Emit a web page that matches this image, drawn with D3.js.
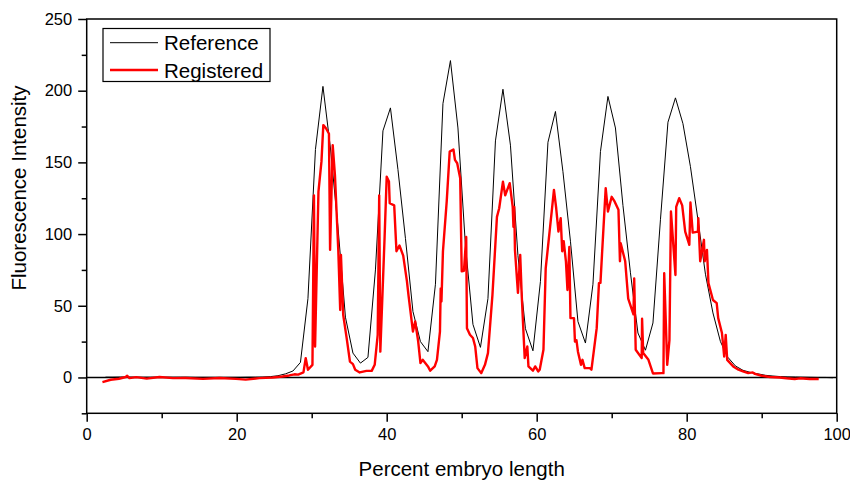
<!DOCTYPE html>
<html><head><meta charset="utf-8">
<script src="https://cdn.jsdelivr.net/npm/d3@7"></script>
<style>
body{margin:0;background:#fff}
svg{display:block}
text{font-family:Arial,"Liberation Sans",sans-serif;fill:#000}
</style></head>
<body><svg id="c" width="850" height="481"></svg>
<script>
// ---- data ----
const refX = [2.5,3.5,4.5,5.5,6.5,7.5,8.5,9.5,10.5,11.5,12.5,13.5,14.5,15.5,16.5,17.5,18.5,19.5,20.5,21.5,
  22.5,23.5,24.5,25.5,26.5,27.5,28.5,29.5,30.5,31.5,32.5,33.5,34.5,35.5,36.5,37.5,38.5,39.5,40.5,41.5,
  42.5,43.5,44.5,45.5,46.5,47.5,48.5,49.5,50.5,51.5,52.5,53.5,54.5,55.5,56.5,57.5,58.5,59.5,60.5,61.5,
  62.5,63.5,64.5,65.5,66.5,67.5,68.5,69.5,70.5,71.5,72.5,73.5,74.5,75.5,76.5,77.5,78.5,79.5,80.5,81.5,
  82.5,83.5,84.5,85.5,86.5,87.5,88.5,89.5,90.5,91.5,92.5,93.5,94.5,95.5,96.5,97.5,98.5,99.5];
const refY = [0.2,0.2,0.3,0.3,0.2,0.2,0.2,0.2,0.2,0.2,0.2,0.2,0.1,0.1,0.1,0.1,0.1,0.1,0.1,0.2,
  0.2,0.3,0.6,1.2,2.5,4.5,10.5,55,159,203,160,105,42,17,10,14,75,172,188,145,
  97,46,25,18,65,191,221,174,92,37,21,55,165,201,162,85,34,18.6,67,164,
  185.5,143.5,95,39,24,65,157.5,196,174,120,73,31,19,38,110,178,195,177,147,110,
  72,45,25,14,8,5,3.5,2.5,1.5,1,0.6,0.4,0.3,0.2,0.1,0,0,-0.2];

const regX = [2.1,3.2,4.3,5.2,5.4,5.7,6.6,8.0,9.7,11.5,13.2,15.5,17.7,19.9,21.2,23.0,24.8,26.1,27.0,27.7,
  28.2,28.9,29.2,29.5,30.1,30.3,30.45,30.9,31.3,31.55,31.9,32.3,32.45,32.8,33.1,33.55,33.8,33.9,34.2,34.7,
  35.1,35.5,35.8,36.4,37.3,38.0,38.4,38.8,39.0,39.15,39.7,40.0,40.3,40.4,41.0,41.3,41.7,42.2,42.7,42.9,
  43.5,43.8,44.2,44.5,44.8,45.5,45.8,46.4,46.7,47.1,47.2,47.3,47.5,48.0,48.4,48.9,49.1,49.4,49.8,50.0,
  50.3,50.6,50.7,51.1,51.5,51.8,52.1,52.6,53.1,53.5,54.1,54.7,55.0,55.5,55.8,56.4,56.8,56.9,57.0,57.1,
  57.5,57.8,58.0,58.4,58.75,58.9,59.5,59.8,60.2,60.4,60.9,61.2,62.0,62.3,62.6,62.9,63.2,63.4,63.6,63.9,
  64.1,64.35,64.5,64.97,65.1,65.3,65.5,65.9,66.1,66.4,67.1,67.3,68.0,68.3,68.5,68.9,69.2,69.5,70.0,70.4,
  70.9,71.1,71.2,71.8,72.2,72.9,73.0,73.2,74.0,74.05,74.2,74.9,75.5,76.7,76.9,77.0,77.4,77.7,77.9,78.5,
  78.6,79.0,79.4,79.8,80.35,80.5,80.8,81.5,81.55,81.8,82.3,82.4,82.7,82.9,83.5,84.0,84.2,84.7,85.0,85.2,
  85.4,85.8,86.2,86.9,87.5,88.2,88.8,89.1,90.0,91.1,92.4,93.3,94.4,95.1,96.4,97.6];
const regY = [-3.2,-1.6,-0.9,0.3,1.2,-0.5,0.2,-0.8,0.3,-0.5,-0.4,-1.0,-0.4,-1.0,-1.5,-0.5,0,0.7,1.4,2.2,
  2.0,3.5,13.5,5.4,8.8,127,21.6,129.6,150.5,176,173.8,170,89,162,141,88,47,85.5,43.7,26,
  11,9.3,5.4,3.5,4.6,4.6,8.8,29.7,127,18,95,140,136.6,121.5,120,88,92,85,67,57.6,
  32,39,25,10,12.3,7.7,4.7,7.7,12.3,32,62,53,88,122.6,157.5,159,151.7,149.4,139,74,
  74.4,98,34.4,29.8,27.5,21.6,6.5,3,8.8,17,57.6,112,118,136.6,127,135.5,119,105,119,89,
  59,85.5,57.6,13.5,21.6,7.7,4.7,7.7,4.2,5.4,19.3,76,115.7,130.8,118,101.7,111,88,95,80.8,
  61,91,41.4,41.4,25,26,18,8.8,12.3,6.5,6.5,5.4,34.4,65.8,66,104,132,115.7,126,122.6,
  117,81,93.6,81,55,44,69,19.3,13.5,41,17,12.3,2.8,3,3,72.7,8.8,26,115.7,71.5,
  119,125,120,101.7,92.5,122,101,101.7,111,81,96,81,89,65.8,54,51.8,41.4,31,14.6,29.7,
  12.3,10,7.7,5.4,4.2,3,3.5,2.5,1.2,0.3,0,-0.6,-1.1,-0.6,-1.1,-1.1];

const xMajor = [0,20,40,60,80,100];
const xMinor = [10,30,50,70,90];
const yMajor = [0,50,100,150,200,250];
const yMinor = [-25,25,75,125,175,225];
const seriesNames = ["Reference","Registered"];
const seriesColors = ["#000000","#ff0000"];

// ---- chart ----
const svg = d3.select("#c");
const L=86.7, R=836.7, T=19, B=413.3;
const x = d3.scaleLinear().domain([0,100]).range([L,R]);
const y = d3.scaleLinear().domain([-25,250]).range([B,T]);

function styleAxis(g){
  g.select(".domain").remove();
  g.selectAll(".tick line").attr("stroke","#000").attr("stroke-width",1.5);
}
svg.append("g").attr("transform",`translate(0,${B})`)
  .call(d3.axisBottom(x).tickValues(xMajor).tickSize(8.5).tickPadding(6).tickFormat(d3.format("d")))
  .call(styleAxis)
  .selectAll("text").attr("font-size","16.5px").attr("font-family","Arial, 'Liberation Sans', sans-serif");
svg.append("g").attr("transform",`translate(0,${B})`)
  .call(d3.axisBottom(x).tickValues(xMinor).tickSize(5).tickFormat(""))
  .call(styleAxis);
svg.append("g").attr("transform",`translate(${L},0)`)
  .call(d3.axisLeft(y).tickValues(yMajor).tickSize(8.5).tickPadding(6).tickFormat(d3.format("d")))
  .call(styleAxis)
  .selectAll("text").attr("font-size","16.5px").attr("font-family","Arial, 'Liberation Sans', sans-serif");
svg.append("g").attr("transform",`translate(${L},0)`)
  .call(d3.axisLeft(y).tickValues(yMinor).tickSize(5).tickFormat(""))
  .call(styleAxis);

// zero line
svg.append("line").attr("x1",L).attr("x2",R).attr("y1",y(0)).attr("y2",y(0))
  .attr("stroke","#000").attr("stroke-width",1.6);

const line = d3.line().x(d=>x(d[0])).y(d=>y(d[1]));
svg.append("path").datum(refX.map((v,i)=>[v,refY[i]]))
  .attr("d",line).attr("fill","none").attr("stroke",seriesColors[0]).attr("stroke-width",1);
svg.append("path").datum(regX.map((v,i)=>[v,regY[i]]))
  .attr("d",line).attr("fill","none").attr("stroke",seriesColors[1]).attr("stroke-width",2.4)
  .attr("stroke-linejoin","round");

// frame
svg.append("rect").attr("x",L).attr("y",T).attr("width",R-L).attr("height",B-T)
  .attr("fill","none").attr("stroke","#000").attr("stroke-width",1.5);

// titles
svg.append("text").attr("x",(L+R)/2).attr("y",475.5).attr("text-anchor","middle")
  .attr("font-size","20.5px").text("Percent embryo length");
svg.append("text").attr("transform",`translate(26,188) rotate(-90)`).attr("text-anchor","middle")
  .attr("font-size","20.5px").text("Fluorescence Intensity");

// legend
const lg = svg.append("g");
lg.append("rect").attr("x",103).attr("y",28.5).attr("width",167).attr("height",53)
  .attr("fill","#fff").attr("stroke","#000").attr("stroke-width",1.2);
[42.7,70].forEach((yy,i)=>{
  lg.append("line").attr("x1",110).attr("x2",158).attr("y1",yy).attr("y2",yy)
    .attr("stroke",seriesColors[i]).attr("stroke-width",i?2.4:1);
  lg.append("text").attr("x",164).attr("y",yy+7.7).attr("font-size","20.5px").text(seriesNames[i]);
});
</script></body></html>
